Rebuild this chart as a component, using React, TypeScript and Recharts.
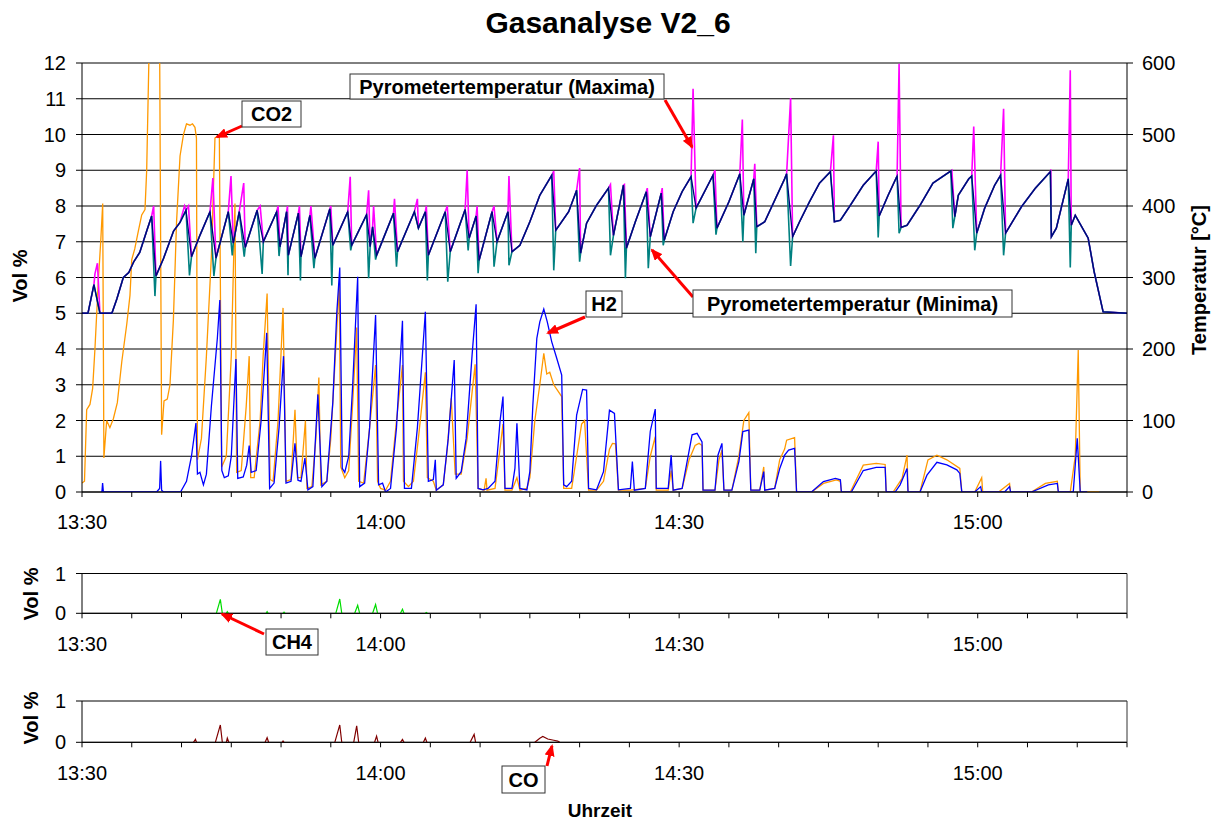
import React from 'react';
import { LineChart, Line, XAxis, YAxis, CartesianGrid } from 'recharts';

const FONT = '"Liberation Sans", Arial, sans-serif';

// x values are minutes after 13:30
const TIME_TICKS = [0, 5, 10, 15, 20, 25, 30, 35, 40, 45, 50, 55, 60, 65, 70, 75, 80, 85, 90, 95, 100, 105];
const TIME_LABELS: Record<number, string> = { 0: '13:30', 30: '14:00', 60: '14:30', 90: '15:00' };
const VOL_TICKS = [0, 1, 2, 3, 4, 5, 6, 7, 8, 9, 10, 11, 12];
const TEMP_TICKS = [0, 100, 200, 300, 400, 500, 600];
const SMALL_TICKS = [0, 1];

// CO2 [min, vol%]
const CO2 = [
  [0, 0.25], [0.25, 0.3], [0.47, 2.3], [0.8, 2.45], [1.07, 2.9], [1.3, 4.0], [1.64, 5.9], [1.88, 7.0], [2.08, 8.07], [2.2, 0.95],
  [2.48, 2.0], [2.8, 1.8], [3.15, 2.05], [3.55, 2.5], [4.0, 3.65], [4.5, 4.7], [4.82, 5.5], [5.0, 6.5], [5.3, 6.8], [5.66, 7.3],
  [6.0, 7.75], [6.33, 7.9], [6.5, 9.0], [6.75, 12.5], [7.0, 15], [7.6, 15], [7.8, 12.5], [8.0, 1.6], [8.24, 2.55], [8.57, 2.6],
  [8.84, 3.0], [9.18, 4.8], [9.5, 7.55], [9.85, 9.4], [10.2, 10.0], [10.5, 10.3], [10.85, 10.26], [11.1, 10.3], [11.35, 10.2], [11.5, 9.9],
  [11.6, 0.9], [12.0, 1.5], [12.5, 3.8], [13.0, 6.6], [13.36, 9.9], [13.8, 10.0], [14.03, 0.7], [14.5, 1.0], [15.0, 3.8], [15.37, 8.07],
  [15.54, 0.55], [16.0, 0.6], [16.5, 2.4], [16.8, 3.8], [16.95, 0.4], [17.3, 0.4], [17.9, 2.0], [18.2, 3.8], [18.6, 5.55], [18.9, 0.35],
  [19.2, 0.3], [19.7, 2.0], [20.2, 5.15], [20.5, 0.3], [21.0, 0.35], [21.4, 2.3], [21.65, 0.4], [22.0, 0.4], [22.45, 2.0], [22.6, 0.1],
  [23.1, 0.15], [23.5, 1.5], [23.8, 3.2], [24.0, 0.2], [24.6, 0.3], [25.0, 1.5], [25.4, 3.5], [25.85, 5.84], [26.0, 0.7], [26.4, 0.4],
  [26.8, 0.6], [27.2, 2.5], [27.6, 4.6], [27.8, 0.3], [28.3, 0.25], [28.9, 1.8], [29.5, 3.55], [29.7, 0.3], [30.0, 0.1], [30.5, 0.05],
  [31.0, 0.3], [31.6, 2.0], [32.2, 3.55], [32.3, 0.3], [32.8, 0.15], [33.3, 0.3], [33.8, 1.5], [34.5, 3.35], [34.7, 0.4], [35.3, 0.3],
  [35.6, 0.05], [36.3, 0.2], [36.7, 1.2], [37.1, 2.62], [37.5, 0.5], [38.1, 0.5], [38.7, 1.5], [39.2, 2.8], [39.5, 3.57], [39.8, 0.1],
  [40.4, 0.05], [40.6, 0.38], [40.7, 0.05], [41.5, 0.1], [42.0, 1.2], [42.3, 1.9], [42.5, 0.05], [43.2, 0.05], [43.7, 0.4], [44.0, 0.05],
  [44.7, 0.1], [45.0, 0.4], [45.5, 2.0], [46.0, 3.0], [46.4, 3.88], [46.7, 3.3], [47.0, 3.35], [47.4, 3.0], [48.2, 2.67], [48.4, 0.1],
  [49.2, 0.1], [49.7, 1.0], [50.2, 1.9], [50.5, 2.0], [50.9, 0.05], [51.7, 0.05], [52.4, 0.3], [53.0, 1.2], [53.3, 1.36], [53.6, 1.35],
  [53.9, 0.05], [55.1, 0.05], [56.6, 0.1], [57.1, 1.0], [57.6, 1.55], [57.7, 0.05], [58.9, 0.05], [59.2, 0.6], [59.4, 0.05], [60.3, 0.1],
  [61.0, 0.9], [61.6, 1.3], [62.0, 1.36], [62.3, 1.3], [62.4, 0.05], [63.6, 0.05], [64.0, 0.9], [64.3, 1.17], [64.5, 0.05], [65.3, 0.05],
  [66.0, 1.0], [66.5, 2.0], [67.0, 2.22], [67.2, 0.05], [68.1, 0.05], [68.5, 0.7], [68.6, 0.05], [69.6, 0.1], [70.1, 0.9], [70.6, 1.2],
  [70.8, 1.45], [71.6, 1.52], [71.8, 0], [73.3, 0], [74.5, 0.24], [75.8, 0.34], [76.2, 0.3], [76.3, 0], [77.2, 0], [78.5, 0.75],
  [79.8, 0.8], [80.7, 0.77], [80.8, 0], [81.5, 0], [82.4, 0.38], [82.9, 1.03], [83.0, 0], [84.2, 0], [85.0, 0.9], [85.9, 1.03],
  [86.9, 0.9], [88.2, 0.66], [88.4, 0], [89.7, 0], [90.4, 0.4], [90.5, 0], [92.1, 0], [93.2, 0.24], [93.3, 0], [95.4, 0],
  [96.8, 0.24], [98.0, 0.3], [98.1, 0], [99.3, 0], [99.8, 1.0], [100.1, 3.97], [100.3, 0], [102.2, 0],
];

// H2 [min, vol%]
const H2 = [
  [1.9, 0], [2.0, 0], [2.07, 0.25], [2.15, 0], [7.5, 0], [7.8, 0.1], [7.9, 0.87], [8.0, 0.05], [8.2, 0], [9.9, 0],
  [10.5, 0.3], [11.0, 1.0], [11.45, 1.93], [11.6, 0.5], [11.85, 0.55], [12.2, 0.2], [12.5, 0.5], [13.0, 2.4], [13.6, 4.3], [13.85, 5.37],
  [14.05, 0.6], [14.3, 0.4], [14.7, 0.45], [15.0, 1.0], [15.47, 3.72], [15.65, 0.38], [16.2, 0.42], [16.55, 0.75], [16.8, 1.3], [17.0, 0.55],
  [17.5, 0.6], [18.0, 2.0], [18.56, 4.45], [18.85, 0.1], [19.3, 0.25], [19.8, 1.8], [20.25, 3.8], [20.5, 0.25], [21.0, 0.3], [21.4, 1.36],
  [21.7, 0.33], [22.0, 0.3], [22.4, 0.95], [22.7, 0.06], [23.2, 0.15], [23.7, 2.73], [24.1, 0.15], [24.6, 0.3], [25.2, 2.5], [25.6, 5.0],
  [25.9, 6.28], [26.15, 0.66], [26.4, 0.55], [26.8, 1.0], [27.2, 3.0], [27.7, 6.02], [27.9, 0.15], [28.4, 0.25], [28.9, 1.8], [29.5, 4.95],
  [29.8, 0.2], [30.2, 0.25], [30.5, 0.0], [31.0, 0.1], [31.6, 1.8], [32.2, 4.79], [32.4, 0.1], [33.1, 0.1], [33.7, 1.8], [34.5, 5.04],
  [34.8, 0.3], [35.3, 0.35], [35.5, 0.9], [35.6, 0.05], [36.3, 0.2], [36.8, 1.5], [37.4, 3.69], [37.6, 0.38], [38.1, 0.57], [38.6, 1.5],
  [39.2, 3.85], [39.6, 5.25], [39.8, 0.1], [40.3, 0.06], [40.8, 0.1], [41.5, 0.3], [42.0, 1.97], [42.3, 2.67], [42.5, 0.1], [43.2, 0.1],
  [43.5, 0.66], [43.7, 1.92], [44.0, 0.1], [44.7, 0.06], [45.0, 0.57], [45.3, 2.43], [45.7, 4.3], [46.0, 4.76], [46.4, 5.12], [46.75, 4.76],
  [47.2, 4.2], [47.7, 3.74], [48.2, 3.27], [48.4, 0.2], [48.7, 0.15], [49.2, 0.3], [49.7, 2.15], [50.3, 2.87], [50.7, 2.85], [50.9, 0.1],
  [51.7, 0.06], [52.4, 0.57], [53.0, 2.29], [53.5, 2.2], [53.9, 0.06], [55.1, 0.1], [55.3, 0.85], [55.5, 0.05], [56.6, 0.1], [57.1, 1.7],
  [57.6, 2.32], [57.7, 0.1], [58.9, 0.1], [59.2, 1.03], [59.4, 0.05], [60.3, 0.1], [60.8, 0.85], [61.3, 1.6], [61.8, 1.64], [62.3, 1.4],
  [62.4, 0.05], [63.6, 0.05], [63.9, 1.03], [64.3, 1.36], [64.5, 0.05], [65.3, 0.05], [66.0, 0.85], [66.4, 1.69], [67.0, 1.73], [67.2, 0.05],
  [68.1, 0.05], [68.5, 0.57], [68.6, 0.05], [69.6, 0.1], [70.1, 0.65], [70.6, 1.03], [71.0, 1.17], [71.6, 1.22], [71.8, 0], [73.3, 0],
  [74.5, 0.29], [75.7, 0.38], [76.2, 0.34], [76.3, 0], [77.3, 0], [78.5, 0.6], [79.8, 0.69], [80.7, 0.69], [80.8, 0], [81.7, 0],
  [82.2, 0.2], [82.9, 0.66], [83.0, 0], [84.2, 0], [84.9, 0.47], [85.9, 0.83], [86.9, 0.76], [87.9, 0.62], [88.2, 0.52], [88.4, 0],
  [89.7, 0], [90.3, 0.15], [90.4, 0], [92.7, 0], [93.2, 0.15], [93.3, 0], [95.4, 0], [97.1, 0.2], [98.0, 0.24], [98.1, 0],
  [99.6, 0], [100.0, 1.5], [100.3, 0], [101.0, 0],
];

// pyrometer temperature, mean curve [min, °C]
const TEMP_MEAN = [
  [0, 250], [0.6, 250], [1.2, 290], [1.8, 250], [3.0, 250], [3.5, 270], [4.15, 300], [4.7, 307], [5.2, 322], [5.8, 335],
  [6.5, 365], [7.0, 386], [7.43, 302], [8.2, 327], [9.2, 365], [9.85, 377], [10.45, 394], [11.0, 329], [11.85, 359], [12.86, 392],
  [13.46, 327], [14.7, 392], [15.2, 348], [15.8, 392], [16.4, 342], [17.6, 394], [18.22, 350], [19.56, 392], [19.89, 343], [20.56, 392],
  [20.73, 331], [21.74, 390], [22.0, 329], [22.9, 387], [23.4, 327], [24.9, 396], [25.2, 345], [26.7, 392], [27.1, 345], [28.6, 388],
  [28.95, 343], [29.2, 371], [29.6, 331], [31.3, 390], [31.7, 336], [33.4, 392], [33.8, 369], [34.5, 392], [34.8, 331], [36.5, 392],
  [37.0, 336], [38.5, 395], [38.9, 355], [39.6, 386], [39.9, 324], [41.2, 392], [41.7, 350], [42.8, 392], [43.2, 336], [44.0, 345],
  [45.0, 378], [46.0, 415], [47.2, 443], [47.6, 366], [48.9, 392], [49.7, 422], [50.1, 334], [50.7, 376], [51.7, 401], [52.9, 425],
  [53.4, 359], [54.4, 429], [54.7, 341], [55.6, 378], [56.7, 420], [57.1, 357], [58.2, 418], [58.5, 352], [59.4, 392], [60.3, 420],
  [61.2, 441], [61.7, 397], [63.4, 443], [63.8, 369], [65.0, 406], [66.1, 445], [66.5, 387], [67.5, 438], [67.8, 371], [68.6, 378],
  [70.6, 438], [70.8, 445], [71.4, 357], [72.1, 378], [73.1, 406], [74.1, 432], [75.2, 448], [75.6, 378], [76.2, 380], [77.2, 401],
  [78.5, 429], [79.8, 449], [80.1, 386], [81.0, 415], [81.9, 442], [82.3, 370], [82.9, 373], [84.2, 401], [85.5, 432], [87.3, 449],
  [87.7, 385], [88.05, 415], [89.1, 438], [89.4, 442], [89.9, 362], [90.7, 397], [91.7, 429], [92.3, 443], [92.8, 362], [94.4, 399],
  [95.8, 425], [97.3, 448], [97.4, 357], [97.9, 369], [99.1, 438], [99.4, 373], [99.8, 387], [101.1, 355], [101.7, 308], [102.6, 252],
  [105, 250],
];

// maxima curve: extra peaks on top of the mean curve
const TEMP_MAX_PEAKS = [
  [1.3, 305], [1.55, 320], [7.2, 400], [10.3, 400], [10.7, 400], [13.15, 439], [14.97, 442], [16.25, 432], [17.9, 400], [19.7, 400],
  [20.65, 400], [21.85, 400], [23.0, 400], [25.0, 400], [26.95, 441], [28.8, 422], [29.3, 400], [31.4, 410], [33.7, 410], [34.6, 400],
  [36.7, 400], [38.7, 450], [39.7, 400], [41.4, 400], [42.9, 442], [47.4, 449], [50.0, 453], [53.1, 430], [54.5, 430], [56.8, 425],
  [58.3, 425], [61.4, 564], [63.6, 450], [66.35, 521], [67.6, 459], [71.2, 551], [75.5, 499], [80.0, 490], [82.1, 599], [87.4, 450],
  [89.6, 511], [92.6, 536], [97.35, 451], [99.3, 590],
];

// minima curve: extra dips below the mean curve
const TEMP_MIN_DIPS = [
  [7.33, 274], [10.8, 303], [13.25, 302], [15.1, 331], [16.3, 329], [18.1, 305], [19.8, 330], [20.7, 303], [21.95, 296], [23.3, 313],
  [25.1, 289], [27.0, 338], [28.8, 299], [29.5, 325], [31.6, 315], [34.7, 296], [36.75, 294], [38.8, 338], [39.8, 306], [41.4, 315],
  [42.9, 317], [47.4, 310], [50.0, 322], [53.1, 331], [54.6, 299], [56.9, 313], [58.4, 345], [61.4, 376], [63.7, 360], [66.4, 350],
  [67.7, 334], [71.2, 316], [80.0, 356], [82.1, 362], [87.5, 369], [89.7, 338], [92.6, 331], [99.3, 314],
];

// CH4 and CO [min, vol%], null = gap
const CH4 = [
  [13.5, 0], [13.9, 0.35], [14.1, 0], [14.3, null], [14.5, 0], [14.6, 0.04], [14.7, 0], [15, null],
  [18.5, 0], [18.6, 0.04], [18.7, 0], [19, null], [20.2, 0], [20.3, 0.03], [20.4, 0], [21, null],
  [25.5, 0], [25.9, 0.36], [26.1, 0], [26.5, null], [27.4, 0], [27.7, 0.2], [27.9, 0], [28.5, null],
  [29.2, 0], [29.5, 0.22], [29.7, 0], [30, null], [32.0, 0], [32.2, 0.1], [32.35, 0], [33, null],
  [34.5, 0], [34.6, 0.02], [34.7, 0],
];

const CO = [
  [11.2, 0], [11.4, 0.07], [11.5, 0], [12, null], [13.4, 0], [13.9, 0.42], [14.1, 0], [14.3, null],
  [14.5, 0], [14.6, 0.1], [14.75, 0], [15, null], [18.4, 0], [18.6, 0.11], [18.75, 0], [19, null],
  [20.1, 0], [20.2, 0.03], [20.3, 0], [21, null], [25.4, 0], [25.9, 0.42], [26.1, 0], [26.5, null],
  [27.3, 0], [27.6, 0.4], [27.8, 0], [28.5, null], [29.4, 0], [29.6, 0.15], [29.75, 0], [30, null],
  [32.0, 0], [32.2, 0.07], [32.35, 0], [33, null], [34.3, 0], [34.5, 0.1], [34.65, 0], [35, null],
  [39.0, 0], [39.4, 0.19], [39.55, 0], [40, null], [45.5, 0], [46.0, 0.1], [46.3, 0.14], [46.8, 0.08],
  [47.4, 0.05], [47.8, 0.03], [48.0, 0],
];

const toPts = (arr: (number | null)[][]) => arr.map(([t, v]) => ({ t, v }));
const byTime = (a: number[], b: number[]) => a[0] - b[0];

const co2Data = toPts(CO2);
const h2Data = toPts(H2);
const meanData = toPts(TEMP_MEAN);
const maxData = toPts([...TEMP_MEAN, ...TEMP_MAX_PEAKS].sort(byTime));
const minData = toPts([...TEMP_MEAN, ...TEMP_MIN_DIPS].sort(byTime));
const ch4Data = toPts(CH4);
const coData = toPts(CO);

const tickStyle = { fill: '#000', fontSize: 20, fontFamily: FONT };
const timeFmt = (v: number) => TIME_LABELS[v] ?? '';

function SmallChart({ data, color, top, mTop, mBottom }: any) {
  return (
    <div style={{ position: 'absolute', left: 0, top }}>
      <LineChart width={1220} height={120} margin={{ top: mTop, right: 33, left: 22, bottom: mBottom }}>
        <CartesianGrid yAxisId="v" vertical={false} stroke="#000" />
        <XAxis type="number" dataKey="t" domain={[0, 105]} ticks={TIME_TICKS} interval={0}
          tickFormatter={timeFmt} tickSize={5} tickMargin={18} height={30}
          stroke="#000" tick={tickStyle} allowDataOverflow />
        <YAxis yAxisId="v" type="number" domain={[0, 1]} ticks={SMALL_TICKS} interval={0}
          width={60} tickSize={6} tickMargin={10} stroke="#000" tick={tickStyle} />
        <YAxis yAxisId="r" orientation="right" type="number" domain={[0, 1]} width={60}
          tick={false} tickLine={false} stroke="#333" />
        <Line yAxisId="v" data={data} dataKey="v" type="linear" stroke={color} strokeWidth={1.2}
          dot={false} activeDot={false} connectNulls={false} isAnimationActive={false} />
      </LineChart>
    </div>
  );
}

function Arrow({ x1, y1, x2, y2 }: { x1: number; y1: number; x2: number; y2: number }) {
  return <line x1={x1} y1={y1} x2={x2} y2={y2} stroke="#FF0000" strokeWidth={3} markerEnd="url(#arrowHead)" />;
}

function Label({ x, y, w, h, text }: { x: number; y: number; w: number; h: number; text: string }) {
  return (
    <g>
      <rect x={x} y={y} width={w} height={h} fill="#fff" stroke="#333" strokeWidth={1} />
      <text x={x + w / 2} y={y + h / 2 + 7} textAnchor="middle" fontSize={20} fontWeight="bold" fontFamily={FONT}>
        {text}
      </text>
    </g>
  );
}

export default function App() {
  return (
    <div style={{ position: 'absolute', left: 0, top: 0, width: 1220, height: 822, background: '#fff', fontFamily: FONT }}>
      <div style={{ position: 'absolute', left: 0, top: 0 }}>
        <LineChart width={1220} height={545} margin={{ top: 63, right: 33, left: 22, bottom: 23 }}>
          <CartesianGrid yAxisId="vol" vertical={false} stroke="#000" />
          <XAxis type="number" dataKey="t" domain={[0, 105]} ticks={TIME_TICKS} interval={0}
            tickFormatter={timeFmt} tickSize={5} tickMargin={18} height={30}
            stroke="#000" tick={tickStyle} allowDataOverflow />
          <YAxis yAxisId="vol" type="number" domain={[0, 12]} ticks={VOL_TICKS} interval={0}
            width={60} tickSize={6} tickMargin={10} stroke="#000" tick={tickStyle} allowDataOverflow />
          <YAxis yAxisId="temp" orientation="right" type="number" domain={[0, 600]} ticks={TEMP_TICKS}
            interval={0} width={60} tickSize={6} tickMargin={9} stroke="#000" tick={tickStyle} allowDataOverflow />
          <Line yAxisId="vol" data={co2Data} dataKey="v" type="linear" stroke="#FF9900" strokeWidth={1.3}
            dot={false} activeDot={false} isAnimationActive={false} />
          <Line yAxisId="vol" data={h2Data} dataKey="v" type="linear" stroke="#0000FF" strokeWidth={1.3}
            dot={false} activeDot={false} isAnimationActive={false} />
          <Line yAxisId="temp" data={maxData} dataKey="v" type="linear" stroke="#FF00FF" strokeWidth={1.6}
            dot={false} activeDot={false} isAnimationActive={false} />
          <Line yAxisId="temp" data={minData} dataKey="v" type="linear" stroke="#008080" strokeWidth={1.6}
            dot={false} activeDot={false} isAnimationActive={false} />
          <Line yAxisId="temp" data={meanData} dataKey="v" type="linear" stroke="#000080" strokeWidth={1.3}
            dot={false} activeDot={false} isAnimationActive={false} />
        </LineChart>
      </div>

      <SmallChart data={ch4Data} color="#00DD00" top={540} mTop={33.5} mBottom={16.7} />
      <SmallChart data={coData} color="#800000" top={668} mTop={33} mBottom={15.7} />

      <svg width={1220} height={822} style={{ position: 'absolute', left: 0, top: 0, pointerEvents: 'none' }}>
        <defs>
          <marker id="arrowHead" markerWidth="12" markerHeight="10" refX="10" refY="5" orient="auto" markerUnits="userSpaceOnUse">
            <path d="M0,0 L12,5 L0,10 z" fill="#FF0000" />
          </marker>
        </defs>
        <text x={608} y={33} textAnchor="middle" fontSize={30} fontWeight="bold" fontFamily={FONT}>Gasanalyse V2_6</text>
        <text transform="translate(27,276) rotate(-90)" textAnchor="middle" fontSize={20} fontWeight="bold" fontFamily={FONT}>Vol %</text>
        <text transform="translate(38,594) rotate(-90)" textAnchor="middle" fontSize={20} fontWeight="bold" fontFamily={FONT}>Vol %</text>
        <text transform="translate(38,718) rotate(-90)" textAnchor="middle" fontSize={20} fontWeight="bold" fontFamily={FONT}>Vol %</text>
        <text transform="translate(1206,280) rotate(-90)" textAnchor="middle" fontSize={20} fontWeight="bold" fontFamily={FONT}>Temperatur [°C]</text>
        <text x={600} y={817} textAnchor="middle" fontSize={19} fontWeight="bold" fontFamily={FONT}>Uhrzeit</text>

        <Arrow x1={665} y1={100} x2={692} y2={147} />
        <Arrow x1={242} y1={126} x2={217} y2={137} />
        <Arrow x1={585} y1={317} x2={548} y2={333} />
        <Arrow x1={693} y1={297} x2={652} y2={250} />
        <Arrow x1={264} y1={634} x2={222} y2={614} />
        <Arrow x1={547} y1={766} x2={552} y2={746} />

        <Label x={350} y={74} w={314} h={25} text="Pyrometertemperatur (Maxima)" />
        <Label x={242} y={101} w={59} h={26} text="CO2" />
        <Label x={586} y={291} w={36} h={26} text="H2" />
        <Label x={693} y={290} w={319} h={27} text="Pyrometertemperatur (Minima)" />
        <Label x={266} y={629} w={52} h={26} text="CH4" />
        <Label x={502} y={766} w={43} h={27} text="CO" />
      </svg>
    </div>
  );
}
